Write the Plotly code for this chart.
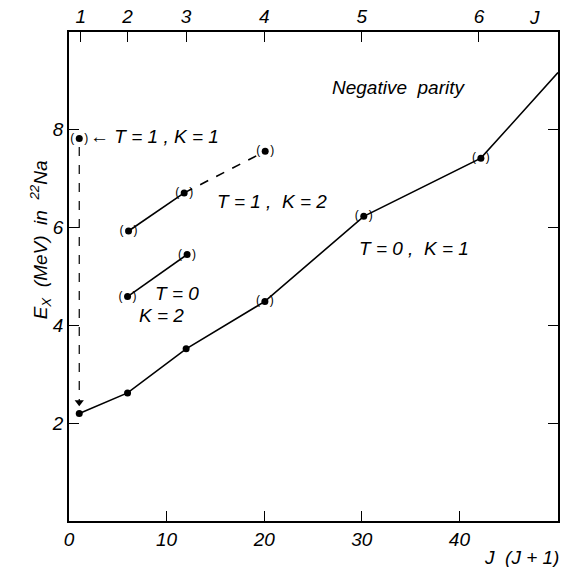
import plotly.graph_objects as go

# ---- data ----
# T=0, K=1 band
t0k1_x = [1.05, 6.0, 12.0, 20.07, 30.2, 42.2]
t0k1_y = [2.20, 2.62, 3.52, 4.49, 6.23, 7.42]
t0k1_tentative = [False, False, False, True, True, True]
t0k1_ext_x = [42.2, 50.1]          # line continues to the frame edge
t0k1_ext_y = [7.42, 9.17]

# T=1, K=2 band
t1k2_x = [6.1, 11.8, 20.1]
t1k2_y = [5.93, 6.71, 7.56]

# T=0, K=2 band
t0k2_x = [6.0, 12.1]
t0k2_y = [4.59, 5.45]

# T=1, K=1 state
t1k1_x = [1.05]
t1k1_y = [7.82]
arrow_x = [1.05, 1.05]
arrow_y = [7.65, 2.45]
arrow_tip_y = [2.43]

# axes
bottom_ticks = [0, 10, 20, 30, 40]
top_tick_pos = [1.2, 6, 12, 20, 30, 42]
top_tick_text = ["1", "2", "3", "4", "5", "6"]
y_ticks = [2, 4, 6, 8]

FONT = "Liberation Sans, Arial, sans-serif"
BLK = "#000000"
LW = 1.6
PAREN = "(   )"

fig = go.Figure()

fig.add_trace(go.Scatter(x=t0k1_x + t0k1_ext_x[1:], y=t0k1_y + t0k1_ext_y[1:],
                         mode="lines", line=dict(color=BLK, width=LW),
                         showlegend=False, hoverinfo="skip"))
fig.add_trace(go.Scatter(x=t1k2_x[:2], y=t1k2_y[:2], mode="lines",
                         line=dict(color=BLK, width=LW), showlegend=False))
fig.add_trace(go.Scatter(x=t1k2_x[1:], y=t1k2_y[1:], mode="lines",
                         line=dict(color=BLK, width=LW, dash="dash"), showlegend=False))
fig.add_trace(go.Scatter(x=t0k2_x, y=t0k2_y, mode="lines",
                         line=dict(color=BLK, width=LW), showlegend=False))
fig.add_trace(go.Scatter(x=arrow_x, y=arrow_y, mode="lines",
                         line=dict(color=BLK, width=1.2, dash="dash"), showlegend=False))
fig.add_trace(go.Scatter(x=arrow_x[:1], y=arrow_tip_y, mode="markers",
                         marker=dict(symbol="triangle-down", size=8, color=BLK),
                         showlegend=False))

# markers
all_x = t0k1_x + t1k2_x + t0k2_x + t1k1_x
all_y = t0k1_y + t1k2_y + t0k2_y + t1k1_y
all_tent = t0k1_tentative + [True] * len(t1k2_x) + [True] * len(t0k2_x) + [True]
fig.add_trace(go.Scatter(x=all_x, y=all_y, mode="markers",
                         marker=dict(size=7, color=BLK), showlegend=False))
tx = [x for x, t in zip(all_x, all_tent) if t]
ty = [y for y, t in zip(all_y, all_tent) if t]
fig.add_trace(go.Scatter(x=tx, y=ty, mode="text", text=[PAREN] * len(tx),
                         textposition="middle center",
                         textfont=dict(family=FONT, size=12, color=BLK),
                         showlegend=False))

# invisible trace for top axis
fig.add_trace(go.Scatter(x=[0, 50], y=[0, 0], xaxis="x2", mode="markers",
                         marker=dict(opacity=0), showlegend=False, hoverinfo="skip"))

ann_font = dict(family=FONT, size=19, color=BLK, style="italic")
annotations = [
    dict(x=33.8, y=8.86, text="Negative  parity", showarrow=False, font=ann_font),
    dict(x=1.9, y=7.87, text="\u2190 T = 1 , K = 1", showarrow=False, font=ann_font,
         xanchor="left"),
    dict(x=15.0, y=6.53, text="T = 1 ,  K = 2", showarrow=False, font=ann_font,
         xanchor="left"),
    dict(x=11.1, y=4.66, text="T = 0", showarrow=False, font=ann_font),
    dict(x=9.5, y=4.21, text="K = 2", showarrow=False, font=ann_font),
    dict(x=35.3, y=5.57, text="T = 0 ,  K = 1", showarrow=False, font=ann_font),
    dict(x=1.006, y=-0.074, xref="paper", yref="paper", xanchor="right",
         yanchor="middle", text="J  (J + 1)", showarrow=False, font=ann_font),
    dict(x=47.7, y=1.0, xref="x", yref="paper", yshift=2, yanchor="bottom",
         text="J", showarrow=False, font=ann_font),
    dict(x=-0.09, y=5.75, xref="paper", yref="y", textangle=-90,
         text="E<sub>X</sub>  (MeV)  in  <sup>22</sup>Na", showarrow=False,
         font=ann_font),
]

tick_font = dict(family=FONT, size=19, color=BLK, style="italic")
common = dict(ticks="inside", ticklen=10, tickcolor=BLK, tickwidth=1.2, showline=True,
              linecolor=BLK, linewidth=1.5, showgrid=False, zeroline=False,
              tickfont=tick_font)
fig.update_layout(
    width=565, height=567,
    margin=dict(l=69, r=5, t=32, b=46),
    paper_bgcolor="white", plot_bgcolor="white",
    showlegend=False,
    annotations=annotations,
    xaxis=dict(range=[0, 50.1], tickvals=bottom_ticks, **common),
    xaxis2=dict(range=[0, 50.1], overlaying="x", side="top", tickvals=top_tick_pos,
                ticktext=top_tick_text, **common),
    yaxis=dict(range=[0, 10], tickvals=y_ticks, mirror="ticks", **common),
)

fig.write_html("out.html")
